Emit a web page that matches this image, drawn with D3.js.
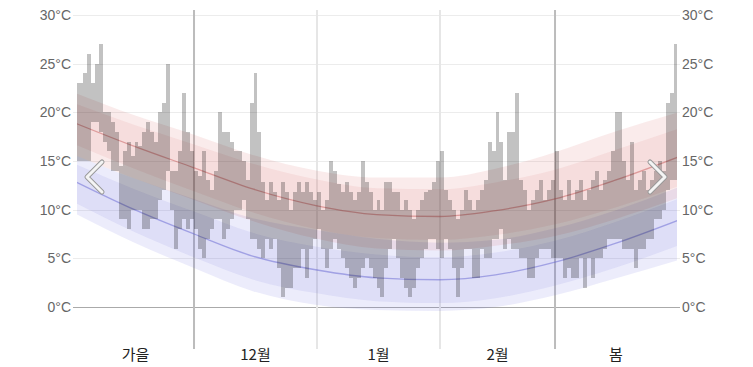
<!DOCTYPE html>
<html>
<head>
<meta charset="utf-8">
<script src="https://cdn.jsdelivr.net/npm/d3@7/dist/d3.min.js"></script>
<style>
body { margin: 0; background: #fff; }
#chart svg { display: block; font-family: 'Liberation Sans', Arial, sans-serif; }
</style>
</head>
<body>
<div id="chart"></div>
<script>
// daily temps, Nov 1 2023 .. Mar 31 2024
const startDate = new Date(2023, 10, 1);
const endDate = new Date(2024, 3, 1);

const dailyHigh = [
  23, 23, 24, 26, 23, 25, 27, 20, 20, 19, 18, 14.5, 16, 17, 15.5, 17, 16.5, 18, 19, 18, 17, 20, 21, 25, 14, 14, 16, 22, 18, 16,
  14, 13.5, 16, 13, 12, 14, 20, 18, 18, 17, 16, 16, 15, 13, 21, 24, 18, 12.8, 11, 12.8, 11.8, 11, 12.8, 11.8, 10, 11.8, 12.8, 11.8, 12.8, 11.8, 11,
  11.8, 10, 11, 15, 14, 12.6, 11.8, 12.8, 11.8, 11, 11.8, 15, 12.8, 11.8, 10, 11, 10, 12.8, 12.8, 11.8, 11.8, 10, 11, 10, 9, 10, 11, 11.8, 12, 12.8, 15,
  16, 12, 11, 10, 9, 10, 12, 11, 10, 11, 12, 13, 17, 16, 20, 17, 13, 18, 18, 22, 13, 12, 10, 11, 12, 13, 11, 12, 13,
  16, 12, 11, 13, 11, 12, 13, 11, 12, 13, 14, 12, 13, 14, 16, 20, 20, 15, 13, 17, 12, 13, 14, 12, 13, 14, 15, 14, 21, 22, 27
];
const dailyLow = [
  15, 15, 15, 15, 19, 19, 18, 17, 16, 14, 14, 9, 9, 8, 10, 10, 10, 8, 8, 9, 9, 11, 12, 14, 10, 6, 8, 9, 8, 9,
  8, 6, 5, 7, 8, 9, 9, 7, 8, 9, 10, 10, 11, 9, 7, 7, 6, 5, 7, 6, 7, 4, 1, 2, 2, 4, 4, 6, 3, 6, 7,
  8, 6, 4, 6, 7, 6, 5, 4, 3, 2, 3, 4, 5, 4, 3, 2, 1, 4, 6, 7, 5, 3, 2, 1, 2, 4, 5, 6, 7, 7, 6,
  5, 7, 6, 4, 1, 4, 6, 6, 3, 3, 6, 5, 5, 7, 7, 8, 6, 7, 6, 6, 5, 5, 3, 3, 5, 6, 6, 6, 5,
  5, 5, 3, 4, 3, 3, 5, 2, 5, 3, 5, 5, 6, 7, 7, 7, 7, 6, 6, 6, 4, 6, 6, 7, 7, 9, 9, 10, 12, 13, 13
];

// climate bands, knots in days from Nov 1
const bandDays = [0, 15, 30, 45, 61, 76, 92, 106, 121, 136, 152];
const hiP10 = [15.6, 13.2, 11.0, 8.8, 7.0, 6.0, 5.8, 6.3, 7.3, 9.0, 11.2];
const hiP25 = [16.7, 14.2, 11.9, 9.7, 8.0, 7.1, 6.9, 7.4, 8.5, 10.2, 12.4];
const hiMean = [18.9, 16.5, 14.3, 12.1, 10.4, 9.5, 9.3, 9.9, 11.1, 13.0, 15.4];
const hiP75 = [20.9, 18.7, 16.7, 14.7, 13.1, 12.2, 12.1, 12.8, 14.1, 16.1, 18.3];
const hiP90 = [22.0, 19.7, 17.7, 15.6, 14.0, 13.3, 13.3, 14.2, 15.9, 18.0, 20.0];
const loP10 = [9.6, 6.6, 4.0, 1.6, 0.2, -0.3, -0.4, 0.0, 1.2, 2.9, 4.8];
const loP25 = [10.7, 7.7, 5.1, 2.8, 1.4, 0.6, 0.4, 0.9, 2.2, 4.0, 6.3];
const loMean = [12.9, 10.0, 7.5, 5.2, 3.8, 3.0, 2.8, 3.3, 4.6, 6.5, 8.9];
const loP75 = [14.7, 12.1, 9.8, 7.6, 6.2, 5.4, 5.1, 5.6, 6.8, 8.7, 11.1];
const loP90 = [15.6, 13.2, 11.1, 9.1, 7.9, 7.0, 6.6, 6.9, 8.1, 9.9, 12.3];

const tempTicks = [0, 5, 10, 15, 20, 25, 30];
const periodLabels = ['가을', '12월', '1월', '2월', '봄'];
const periodBounds = [startDate, new Date(2023, 11, 1), new Date(2024, 0, 1), new Date(2024, 1, 1), new Date(2024, 2, 1), endDate];
const seasonLines = [new Date(2023, 11, 1), new Date(2024, 2, 1)];
const monthLines = [new Date(2024, 0, 1), new Date(2024, 1, 1)];

const width = 753, height = 367;
const plotLeft = 77, plotRight = 677;

const svg = d3.select('#chart').append('svg')
  .attr('width', width)
  .attr('height', height);

const x = d3.scaleTime().domain([startDate, endDate]).range([75, 678]);
const y = d3.scaleLinear().domain([0, 30]).range([307, 15]);
const dayX = d => x(d3.timeDay.offset(startDate, d));

svg.append('defs').append('clipPath').attr('id', 'plotClip')
  .append('rect')
  .attr('x', plotLeft).attr('y', 0)
  .attr('width', plotRight - plotLeft).attr('height', height);

// horizontal grid
svg.append('g').selectAll('line')
  .data(tempTicks)
  .join('line')
  .attr('x1', 73).attr('x2', 680)
  .attr('y1', d => Math.round(y(d)) + 0.5)
  .attr('y2', d => Math.round(y(d)) + 0.5)
  .attr('stroke', d => d === 0 ? '#aaa' : '#ececec')
  .attr('stroke-width', 1);

// tick labels left and right
svg.append('g').selectAll('text')
  .data(tempTicks)
  .join('text')
  .attr('x', 71)
  .attr('y', d => y(d) + 5)
  .attr('text-anchor', 'end')
  .attr('font-size', 14)
  .attr('fill', '#666')
  .text(d => `${d}°C`);

svg.append('g').selectAll('text')
  .data(tempTicks)
  .join('text')
  .attr('x', 682)
  .attr('y', d => y(d) + 5)
  .attr('font-size', 14)
  .attr('fill', '#666')
  .text(d => `${d}°C`);

// month / season separators
svg.append('g').selectAll('line')
  .data(monthLines)
  .join('line')
  .attr('x1', d => x(d)).attr('x2', d => x(d))
  .attr('y1', 10).attr('y2', 349)
  .attr('stroke', '#e6e6e6')
  .attr('stroke-width', 2);

svg.append('g').selectAll('line')
  .data(seasonLines)
  .join('line')
  .attr('x1', d => x(d)).attr('x2', d => x(d))
  .attr('y1', 10).attr('y2', 349)
  .attr('stroke', '#bcbcbc')
  .attr('stroke-width', 2);

const plot = svg.append('g').attr('clip-path', 'url(#plotClip)');

const band = (lo, hi) => d3.area()
  .curve(d3.curveMonotoneX)
  .x((d, i) => dayX(bandDays[i]))
  .y0((d, i) => y(lo[i]))
  .y1((d, i) => y(hi[i]))(bandDays);

const line = vals => d3.line()
  .curve(d3.curveMonotoneX)
  .x((d, i) => dayX(bandDays[i]))
  .y((d, i) => y(vals[i]))(bandDays);

// low temperature bands
plot.append('path').attr('d', band(loP10, loP90)).attr('fill', 'rgba(100,100,220,0.12)');
plot.append('path').attr('d', band(loP25, loP75)).attr('fill', 'rgba(100,100,220,0.10)');
// high temperature bands
plot.append('path').attr('d', band(hiP10, hiP90)).attr('fill', 'rgba(220,100,100,0.13)');
plot.append('path').attr('d', band(hiP25, hiP75)).attr('fill', 'rgba(220,100,100,0.10)');

plot.append('path').attr('d', line(loMean))
  .attr('fill', 'none').attr('stroke', 'rgba(100,100,210,0.5)').attr('stroke-width', 1.3);
plot.append('path').attr('d', line(hiMean))
  .attr('fill', 'none').attr('stroke', 'rgba(200,90,90,0.5)').attr('stroke-width', 1.3);

// daily range bars
plot.append('g').selectAll('rect')
  .data(dailyHigh)
  .join('rect')
  .attr('x', (d, i) => dayX(i))
  .attr('width', (d, i) => dayX(i + 1) - dayX(i))
  .attr('y', d => y(d))
  .attr('height', (d, i) => y(dailyLow[i]) - y(d))
  .attr('fill', 'rgba(0,0,0,0.24)')
  .attr('shape-rendering', 'crispEdges');

// period labels
svg.append('g').selectAll('text')
  .data(periodLabels)
  .join('text')
  .attr('x', (d, i) => (Math.max(plotLeft, x(periodBounds[i])) + Math.min(plotRight, x(periodBounds[i + 1]))) / 2)
  .attr('y', 360)
  .attr('text-anchor', 'middle')
  .attr('font-size', 15)
  .attr('font-family', "'Noto Sans CJK KR', 'Liberation Sans', sans-serif")
  .attr('fill', '#222')
  .text(d => d);

// nav chevrons
const chevron = (pts) => {
  const p = d3.line()(pts);
  svg.append('path').attr('d', p).attr('fill', 'none')
    .attr('stroke', '#999').attr('stroke-width', 5).attr('stroke-linecap', 'round').attr('stroke-linejoin', 'round');
  svg.append('path').attr('d', p).attr('fill', 'none')
    .attr('stroke', '#f4f4f4').attr('stroke-width', 3).attr('stroke-linecap', 'round').attr('stroke-linejoin', 'round');
};
chevron([[102, 162], [87, 177], [102, 192]]);
chevron([[650, 162], [665, 177], [650, 192]]);
</script>
</body>
</html>
